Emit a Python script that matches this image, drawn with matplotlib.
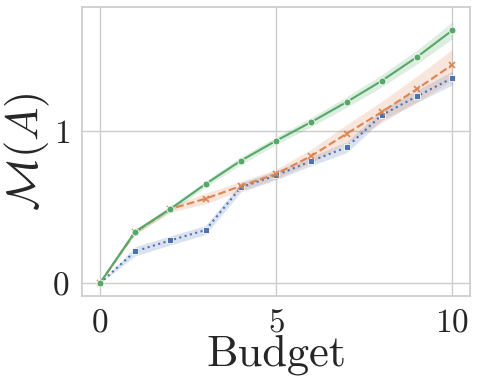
import numpy as np
import matplotlib
matplotlib.use("Agg")
from matplotlib import pyplot as plt
import seaborn as sns

# Données
budget = [0, 1, 2, 3, 4, 5, 6, 7, 8, 9, 10]

vert = [0.0, 0.339, 0.488, 0.652, 0.805, 0.936, 1.059, 1.19, 1.33, 1.486, 1.661]
vert_err = [0.0, 0.015, 0.02, 0.02, 0.025, 0.025, 0.03, 0.035, 0.04, 0.045, 0.055]

orange = [0.0, 0.335, 0.488, 0.556, 0.639, 0.718, 0.836, 0.982, 1.125, 1.276, 1.435]
orange_err = [0.0, 0.015, 0.02, 0.035, 0.03, 0.03, 0.045, 0.06, 0.07, 0.085, 0.1]

bleu = [0.0, 0.21, 0.282, 0.35, 0.63, 0.709, 0.803, 0.893, 1.105, 1.228, 1.348]
bleu_err = [0.0, 0.03, 0.03, 0.03, 0.03, 0.03, 0.03, 0.035, 0.035, 0.04, 0.045]

sns.set_theme(style="whitegrid")
plt.rcParams["font.family"] = "serif"
plt.rcParams["font.serif"] = ["cmr10"]
plt.rcParams["mathtext.fontset"] = "cm"
plt.rcParams["axes.formatter.use_mathtext"] = True

pal = sns.color_palette("deep")

fig = plt.figure(figsize=(4.78, 3.91), dpi=100)
ax = fig.add_axes([0.172, 0.243, 0.811, 0.739])

series = [
    (bleu, bleu_err, pal[0], ":", "s", 4),
    (orange, orange_err, pal[1], "--", "x", 5),
    (vert, vert_err, pal[2], "-", "o", 5),
]
for y, e, c, ls, m, ms in series:
    y = np.array(y)
    e = np.array(e)
    ax.fill_between(budget, y - e, y + e, color=c, alpha=0.2, linewidth=0)
for y, e, c, ls, m, ms in series:
    ax.plot(budget, y, color=c, linestyle=ls, marker=m, markersize=ms,
            linewidth=1.5, markeredgecolor="white" if m != "x" else c,
            markeredgewidth=0.6 if m != "x" else 1.2)

ax.set_xlim(-0.5, 10.5)
ax.set_ylim(-0.083, 1.814)
ax.set_xticks([0, 5, 10])
ax.set_yticks([0, 1])
ax.tick_params(labelsize=24, pad=3)
ax.set_xlabel("Budget", fontsize=32, labelpad=-2)
ax.set_ylabel(r"$\mathcal{M}(A)$", fontsize=32, labelpad=0)

plt.savefig("out.png", dpi=100)
